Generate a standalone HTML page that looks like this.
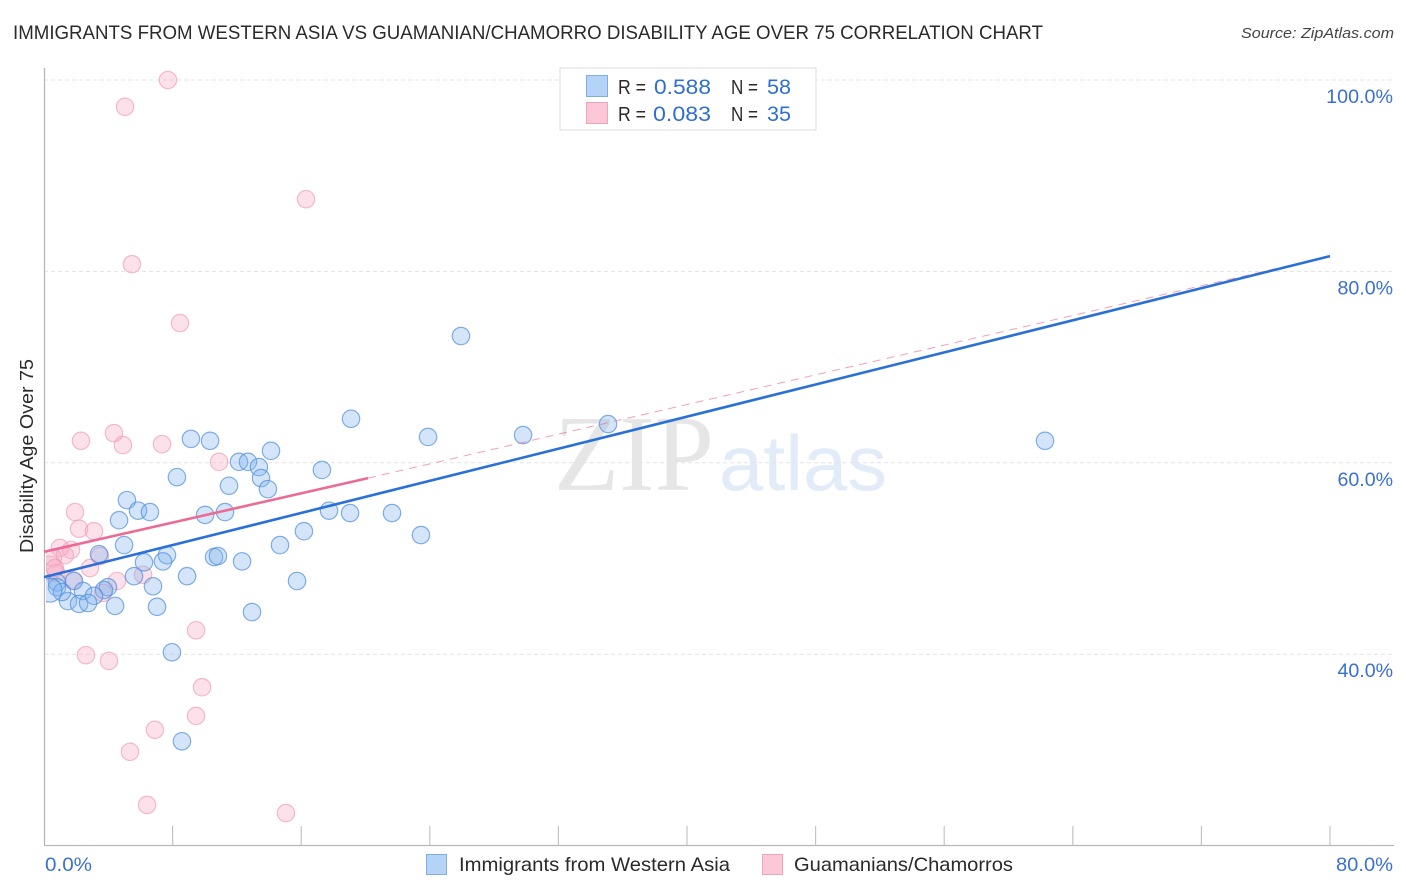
<!DOCTYPE html>
<html lang="en">
<head>
<meta charset="utf-8">
<title>Immigrants from Western Asia vs Guamanian/Chamorro Disability Age Over 75 Correlation Chart</title>
<style>
html,body{margin:0;padding:0;background:#fff;}
svg{display:block;font-family:"Liberation Sans",sans-serif;}
</style>
</head>
<body>
<svg id="chart" xmlns="http://www.w3.org/2000/svg" width="1406" height="892" viewBox="0 0 1406 892">
  <defs>
    <clipPath id="plotClip"><rect x="46" y="60" width="1350" height="785"/></clipPath>
  </defs>
  <rect x="0" y="0" width="1406" height="892" fill="#ffffff"/>
  <text x="13" y="39" font-size="19" fill="#2a2a2a" textLength="1030" lengthAdjust="spacingAndGlyphs">IMMIGRANTS FROM WESTERN ASIA VS GUAMANIAN/CHAMORRO DISABILITY AGE OVER 75 CORRELATION CHART</text>
  <text x="1394" y="38" font-size="15" font-style="italic" fill="#444444" text-anchor="end" textLength="153" lengthAdjust="spacingAndGlyphs">Source: ZipAtlas.com</text>

  <g>
    <text x="554" y="490" font-size="108" fill="#e6e6e6" font-family="'Liberation Serif',serif" textLength="160" lengthAdjust="spacingAndGlyphs">ZIP</text>
    <text x="719" y="490" font-size="78" fill="#e2ebf8" textLength="168" lengthAdjust="spacingAndGlyphs">atlas</text>
  </g>

  <g id="grid"></g>
  <g id="axes"></g>
  <g id="pinkPts" clip-path="url(#plotClip)"></g>
  <g id="bluePts" clip-path="url(#plotClip)"></g>
  <g id="trends"></g>

  <text transform="translate(33,456) rotate(-90)" font-size="18" fill="#2a2a2a" text-anchor="middle" textLength="194" lengthAdjust="spacingAndGlyphs">Disability Age Over 75</text>

  <g>
    <rect x="560" y="68" width="256" height="62" fill="#ffffff" stroke="#dddddd" stroke-width="1"/>
    <rect x="586.5" y="75.5" width="21" height="21" fill="#b5d3f7" stroke="#7fade6"/>
    <rect x="586.5" y="102.5" width="21" height="21" fill="#fcc8d8" stroke="#f0a3bb"/>
    <text x="618" y="94" font-size="20" fill="#2a2a2a" textLength="28" lengthAdjust="spacingAndGlyphs">R =</text>
    <text x="654" y="94" font-size="21" fill="#2f6fd0" textLength="57" lengthAdjust="spacingAndGlyphs">0.588</text>
    <text x="731" y="94" font-size="20" fill="#2a2a2a" textLength="27" lengthAdjust="spacingAndGlyphs">N =</text>
    <text x="767" y="94" font-size="21" fill="#2f6fd0" textLength="24" lengthAdjust="spacingAndGlyphs">58</text>
    <text x="618" y="121" font-size="20" fill="#2a2a2a" textLength="28" lengthAdjust="spacingAndGlyphs">R =</text>
    <text x="653" y="121" font-size="21" fill="#2f6fd0" textLength="58" lengthAdjust="spacingAndGlyphs">0.083</text>
    <text x="731" y="121" font-size="20" fill="#2a2a2a" textLength="27" lengthAdjust="spacingAndGlyphs">N =</text>
    <text x="767" y="121" font-size="21" fill="#2f6fd0" textLength="24" lengthAdjust="spacingAndGlyphs">35</text>
  </g>

  <g>
    <rect x="426.5" y="854.5" width="20" height="20" fill="#b5d3f7" stroke="#7fade6"/>
    <text x="459" y="871" font-size="19.5" fill="#2a2a2a" textLength="271" lengthAdjust="spacingAndGlyphs">Immigrants from Western Asia</text>
    <rect x="762.5" y="854.5" width="20" height="20" fill="#fcc8d8" stroke="#f0a3bb"/>
    <text x="794" y="871" font-size="19.5" fill="#2a2a2a" textLength="219" lengthAdjust="spacingAndGlyphs">Guamanians/Chamorros</text>
  </g>
</svg>

<script>
const blueX = [62.27,25.94,35.09,29.80,23.89,19.10,9.14,10.33,14.12,17.29,12.13,12.69,13.37,13.50,13.93,8.27,11.51,5.16,5.85,6.59,4.67,10.02,11.26,17.73,19.04,21.65,23.45,16.17,14.68,4.98,3.42,6.22,7.65,7.40,10.58,10.82,12.32,15.74,8.90,5.60,1.87,6.78,3.98,3.73,2.43,3.11,1.49,2.18,2.74,4.42,7.03,12.94,7.96,8.58,0.81,0.81,1.12,0.37];
const blueY = [62.3,73.25,64.05,62.9,62.7,64.6,62.5,62.3,61.25,59.25,60.1,60.1,59.55,58.4,57.25,58.5,57.6,56.1,55.0,54.85,54.0,54.55,54.85,55.0,54.75,54.75,52.45,52.85,51.4,51.4,50.45,49.6,50.35,49.7,50.15,50.25,49.7,47.65,48.15,48.15,47.65,47.1,47.0,46.7,46.6,46.1,45.55,45.25,45.35,45.05,44.95,44.4,40.2,30.9,47.5,47.0,46.5,46.7];
const blueWeight = [1,1,1,1,1,1,1,1,1,1,1,1,1,1,1,1,1,1,1,1,1,1,1,1,1,1,1,1,1,1,1,1,1,1,1,1,1,1,1,1,1,1,1,1,1,1,1,1,1,1,1,1,1,1,1,1,1,1.9];
const pinkX = [7.71,5.04,16.30,5.47,8.46,2.30,4.35,4.91,7.34,10.89,1.93,2.18,3.11,0.99,1.68,1.30,0.56,2.86,4.54,6.16,3.48,0.75,0.37,0.68,1.80,3.67,9.46,2.61,4.04,9.83,9.46,6.90,5.35,6.41,15.05];
const pinkY = [100,97.2,87.55,80.75,74.6,62.3,63.1,61.85,61.95,60.1,54.85,53.1,52.85,51.1,50.9,50.35,50.05,49.0,47.65,48.3,50.25,48.5,49.0,49.0,47.7,46.4,42.5,39.9,39.3,36.55,33.55,32.1,29.8,24.25,23.4];
const pinkWeight = [1,1,1,1,1,1,1,1,1,1,1,1,1,1,1,1,1,1,1,1,1,1,1.9,1,1,1,1,1,1,1,1,1,1,1,1];
const blueTrendX = [0,80];
const blueTrendY = [48.05,81.6];
const pinkTrendX = [0,20.16];
const pinkTrendY = [50.7,58.4];
const pinkDashX = [20.16,80];
const pinkDashY = [58.4,81.6];
const yTicks = [100,80,60,40];
const yTickLabels = ["100.0%","80.0%","60.0%","40.0%"];
const xTicks = [0,8,16,24,32,40,48,56,64,72,80];
const xEndLabels = ["0.0%","80.0%"];

const NS = "http://www.w3.org/2000/svg";
function xScale(v){ return 44 + (v / 80) * 1286; }
function yScale(v){ return 80 + (100 - v) * 9.57; }
function make(tag, parent, attrs){
  const el = document.createElementNS(NS, tag);
  for (const k in attrs) el.setAttribute(k, attrs[k]);
  parent.appendChild(el);
  return el;
}

const grid = document.getElementById("grid");
const axes = document.getElementById("axes");
yTicks.forEach(function(t, i){
  const line = make("line", grid, {x1:44, x2:1394, y1:yScale(t), y2:yScale(t), stroke:"#e3e3e3", "stroke-width":1, "stroke-dasharray":"4 3"});
  
  
  const label = make("text", axes, {x:1393, y:yScale(t)+23, "font-size":19.5, fill:"#3a70d2", "text-anchor":"end", textLength:yTickLabels[i].length * 11.3 - 1, lengthAdjust:"spacingAndGlyphs"});
  label.textContent = yTickLabels[i];
  
  
});

const yAxis = make("line", axes, {x1:44.5, x2:44.5, y1:68, y2:845, stroke:"#b8b8b8", "stroke-width":1.3});


const xAxis = make("line", axes, {x1:44, x2:1394, y1:845.5, y2:845.5, stroke:"#b8b8b8", "stroke-width":1.3});


xTicks.slice(1).forEach(function(t){
  const tick = make("line", axes, {x1:xScale(t), x2:xScale(t), y1:826, y2:845, stroke:"#c4c4c4", "stroke-width":1.2});
  
  
});
const x0 = make("text", axes, {x:45, y:871, "font-size":19.5, fill:"#3a70d2", textLength:47, lengthAdjust:"spacingAndGlyphs"});
x0.textContent = xEndLabels[0];


const x1 = make("text", axes, {x:1393, y:871, "font-size":19.5, fill:"#3a70d2", "text-anchor":"end", textLength:57, lengthAdjust:"spacingAndGlyphs"});
x1.textContent = xEndLabels[1];



const pinkGroup = document.getElementById("pinkPts");
pinkX.forEach(function(v, i){
  const c = make("circle", pinkGroup, {cx:xScale(v), cy:yScale(pinkY[i]), r:8.7*Math.sqrt(pinkWeight[i]), fill:"#f7a8c0", "fill-opacity":0.34, stroke:"#f0a0b8", "stroke-opacity":0.7, "stroke-width":1.2});
  
  
});
const blueGroup = document.getElementById("bluePts");
blueX.forEach(function(v, i){
  const c = make("circle", blueGroup, {cx:xScale(v), cy:yScale(blueY[i]), r:8.7*Math.sqrt(blueWeight[i]), fill:"#80b2ee", "fill-opacity":0.34, stroke:"#4f8ddb", "stroke-opacity":0.7, "stroke-width":1.2});
  
  
});

const trends = document.getElementById("trends");
const dash = make("line", trends, {x1:xScale(pinkDashX[0]), y1:yScale(pinkDashY[0]), x2:xScale(pinkDashX[1]), y2:yScale(pinkDashY[1]), stroke:"#ec6a94", "stroke-width":1, "stroke-dasharray":"8 6", "stroke-opacity":0.65});


const pinkLine = make("line", trends, {x1:xScale(pinkTrendX[0]), y1:yScale(pinkTrendY[0]), x2:xScale(pinkTrendX[1]), y2:yScale(pinkTrendY[1]), stroke:"#ec6a94", "stroke-width":2.6});


const blueLine = make("line", trends, {x1:xScale(blueTrendX[0]), y1:yScale(blueTrendY[0]), x2:xScale(blueTrendX[1]), y2:yScale(blueTrendY[1]), stroke:"#2a70d8", "stroke-width":2.6});


</script>
</body>
</html>
